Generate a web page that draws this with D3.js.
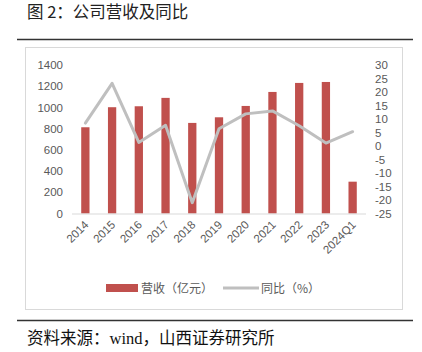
<!DOCTYPE html>
<html lang="zh">
<head>
<meta charset="UTF-8">
<title>公司营收及同比</title>
<script src="https://d3js.org/d3.v7.min.js"></script>
<style>
    body { margin: 0; padding: 0; background: #fff; }
    svg { display: block; }
</style>
</head>
<body>
<script>
    // données
    var years = ["2014", "2015", "2016", "2017", "2018", "2019", "2020", "2021", "2022", "2023", "2024Q1"];
    var revenue = [813, 1002, 1011, 1090, 854, 907, 1014, 1146, 1231, 1240, 300];   // 营收（亿元）
    var yoy = [8.5, 23.2, 1.3, 7.7, -21, 6.4, 11.9, 13.0, 7.5, 1.1, 5.3];           // 同比（%）
    var leftTicks = [0, 200, 400, 600, 800, 1000, 1200, 1400];
    var rightTicks = [30, 25, 20, 15, 10, 5, 0, -5, -10, -15, -20, -25];

    var width = 422, height = 352;
    var cjk = "'Noto Sans CJK SC', 'Noto Sans', sans-serif";
    var tickFont = "'Liberation Sans', 'Noto Sans CJK SC', sans-serif";

    var svg = d3.select("body").append("svg")
        .attr("width", width)
        .attr("height", height);

    // titre + filets
    svg.append("text")
        .attr("x", 27).attr("y", 17.5)
        .style("font-family", cjk).style("font-size", "16.5px").style("fill", "#222")
        .text("图 2：公司营收及同比");
    svg.append("line").attr("x1", 17).attr("x2", 413).attr("y1", 39.5).attr("y2", 39.5)
        .style("stroke", "#333").style("stroke-width", 1.3);

    svg.append("rect").attr("x", 25.5).attr("y", 47.5).attr("width", 377).attr("height", 262)
        .style("fill", "#fff").style("stroke", "#d9d9d9").style("stroke-width", 1);

    svg.append("line").attr("x1", 17).attr("x2", 413).attr("y1", 320.5).attr("y2", 320.5)
        .style("stroke", "#333").style("stroke-width", 1.3);
    svg.append("text")
        .attr("x", 27).attr("y", 344)
        .style("font-family", "'Liberation Serif', 'Noto Sans CJK SC', serif").style("font-size", "16.5px").style("fill", "#111")
        .text("资料来源：wind，山西证券研究所");

    // échelles
    var x = d3.scaleBand().domain(years).range([72, 366]).paddingInner(0.69).paddingOuter(0.345);
    var yL = d3.scaleLinear().domain([0, 1400]).range([213.5, 65]);
    var yR = d3.scaleLinear().domain([-25, 30]).range([213.5, 65]);

    // axes
    var fmt = function(d) { return String(d); };
    var axL = svg.append("g").attr("transform", "translate(72,0)")
        .call(d3.axisLeft(yL).tickValues(leftTicks).tickSize(0).tickPadding(9).tickFormat(fmt));
    var axR = svg.append("g").attr("transform", "translate(366,0)")
        .call(d3.axisRight(yR).tickValues(rightTicks).tickSize(0).tickPadding(9).tickFormat(fmt));
    [axL, axR].forEach(function(a) {
        a.select(".domain").remove();
        a.selectAll("text").style("font-family", tickFont).style("font-size", "11.5px").style("fill", "#595959");
    });

    // barres
    svg.selectAll("rect.bar")
        .data(years)
        .join("rect")
        .attr("class", "bar")
        .attr("x", function(d) { return x(d); })
        .attr("width", x.bandwidth())
        .attr("y", function(d, i) { return yL(revenue[i]); })
        .attr("height", function(d, i) { return yL(0) - yL(revenue[i]); })
        .style("fill", "#c0504d");

    // ligne de base
    svg.append("line").attr("x1", 72).attr("x2", 366).attr("y1", yL(0) + 0.5).attr("y2", yL(0) + 0.5)
        .style("stroke", "#d9d9d9").style("stroke-width", 1);

    // courbe du taux
    var line = d3.line()
        .x(function(d, i) { return x(years[i]) + x.bandwidth() / 2; })
        .y(function(d) { return yR(d); });
    svg.append("path")
        .datum(yoy)
        .attr("d", line)
        .style("fill", "none")
        .style("stroke", "#bfbfbf")
        .style("stroke-width", 3)
        .style("stroke-linejoin", "round")
        .style("stroke-linecap", "round");

    // étiquettes de l'axe x, inclinées
    svg.selectAll("text.xlab")
        .data(years)
        .join("text")
        .attr("class", "xlab")
        .attr("transform", function(d) {
            return "translate(" + (x(d) + x.bandwidth() / 2 + 4) + "," + (yL(0) + 12) + ") rotate(-45)";
        })
        .attr("text-anchor", "end")
        .style("font-family", tickFont).style("font-size", "11.5px").style("fill", "#595959")
        .text(function(d) { return d; });

    // légende
    var lg = svg.append("g").attr("transform", "translate(0,288)");
    lg.append("rect").attr("x", 106).attr("y", -4).attr("width", 32).attr("height", 8).style("fill", "#c0504d");
    lg.append("text").attr("x", 141).attr("y", 4.5)
        .style("font-family", cjk).style("font-size", "12px").style("fill", "#595959")
        .text("营收（亿元）");
    lg.append("line").attr("x1", 223).attr("x2", 259).attr("y1", 0).attr("y2", 0)
        .style("stroke", "#bfbfbf").style("stroke-width", 3);
    lg.append("text").attr("x", 261).attr("y", 4.5)
        .style("font-family", cjk).style("font-size", "12px").style("fill", "#595959")
        .text("同比（%）");
</script>
</body>
</html>
